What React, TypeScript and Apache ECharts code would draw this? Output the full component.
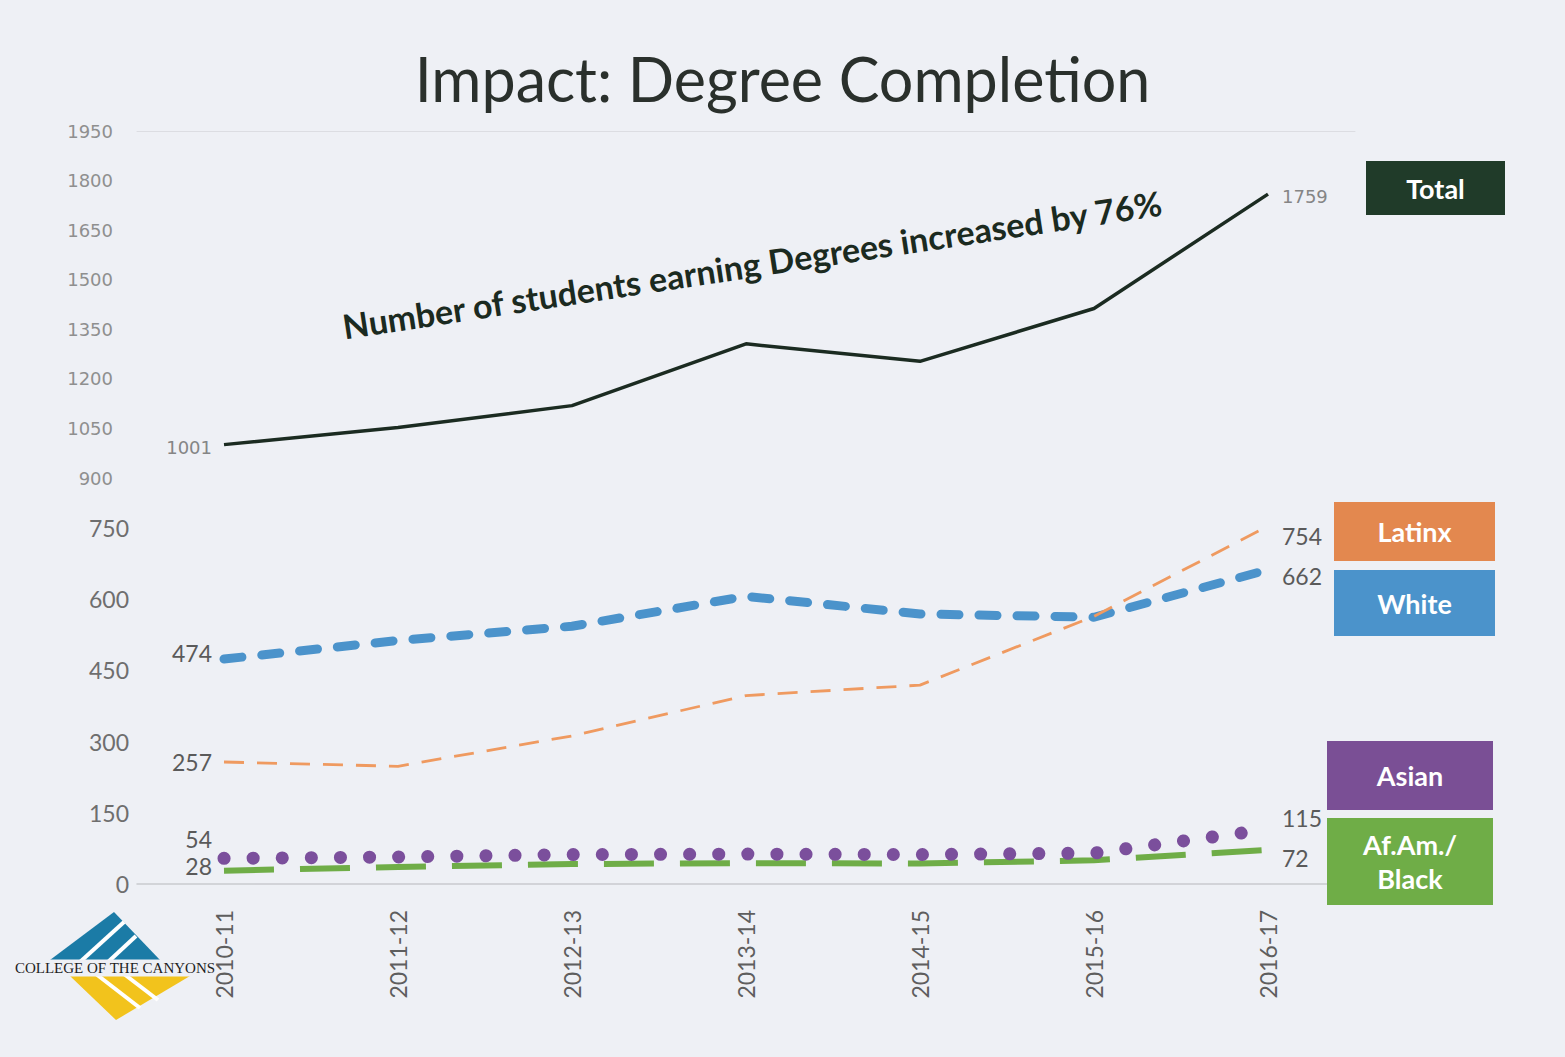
import React, { useEffect, useRef } from "react";
import * as echarts from "echarts";

const categories = ["2010-11", "2011-12", "2012-13", "2013-14", "2014-15", "2015-16", "2016-17"];
const totalValues = [1001, 1053, 1119, 1306, 1253, 1413, 1759];
const latinxValues = [257, 248, 312, 397, 419, 564, 754];
const whiteValues = [474, 513, 543, 606, 569, 562, 662];
const asianValues = [54, 57, 62, 63, 62, 65, 115];
const blackValues = [28, 36, 42, 44, 43, 50, 72];

const topAxis = { min: 900, max: 1950, interval: 150 };
const bottomAxis = { min: 0, max: 750, interval: 150 };

const legendItems = [
  { name: "Total", color: "#203b29" },
  { name: "Latinx", color: "#e3884f" },
  { name: "White", color: "#4b93cb" },
  { name: "Asian", color: "#7a4f95" },
  { name: "Af.Am./\nBlack", color: "#6fad47" },
];

const BG = "#eef0f5";

function endLabels(values: number[], font: any, leftOffset: number[], rightOffset: number[]) {
  const last = values.length - 1;
  return values.map((v, i) => {
    if (i === 0) {
      return { value: v, label: { show: true, position: "left", distance: 12, offset: leftOffset, ...font } };
    }
    if (i === last) {
      return { value: v, label: { show: true, position: "right", distance: 14, offset: rightOffset, ...font } };
    }
    return { value: v };
  });
}

export default function App() {
  const ref = useRef<HTMLDivElement>(null);

  useEffect(() => {
    if (!ref.current) return;
    const chart = echarts.init(ref.current, null, { renderer: "svg" });

    const smallFont = { fontFamily: "DejaVu Sans", fontSize: 18, color: "#858585" };
    const bigFont = { fontFamily: "Lato", fontSize: 23, lineHeight: 20, color: "#5a5a5a" };

    const legendBoxes = [
      { x: 1366, y: 161, w: 139, h: 54, i: 0 },
      { x: 1334, y: 502, w: 161, h: 59, i: 1 },
      { x: 1334, y: 570, w: 161, h: 66, i: 2 },
      { x: 1327, y: 741, w: 166, h: 69, i: 3 },
      { x: 1327, y: 818, w: 166, h: 87, i: 4 },
    ];

    const graphics: any[] = [];
    legendBoxes.forEach((b) => {
      const item = legendItems[b.i];
      graphics.push({
        type: "rect",
        shape: { x: b.x, y: b.y, width: b.w, height: b.h },
        style: { fill: item.color },
        z: 10,
      });
      graphics.push({
        type: "text",
        x: b.x + b.w / 2,
        y: b.y + b.h / 2,
        style: {
          text: item.name,
          fill: "#ffffff",
          font: "bold 27px Lato",
          align: "center",
          verticalAlign: "middle",
          lineHeight: 34,
        },
        z: 11,
      });
    });

    // annotation
    graphics.push({
      type: "text",
      x: 752,
      y: 264,
      rotation: (8.6 * Math.PI) / 180,
      style: {
        text: "Number of students earning Degrees increased by 76%",
        fill: "#1b2a20",
        font: "bold 34px Lato",
        align: "center",
        verticalAlign: "middle",
      },
      z: 10,
    });

    // logo
    graphics.push({
      type: "group",
      z: 10,
      children: [
        { type: "polygon", shape: { points: [[50, 960], [114, 912], [160, 960]] }, style: { fill: "#1b7ba6" } },
        { type: "line", shape: { x1: 80, y1: 962, x2: 124, y2: 922 }, style: { stroke: "#ffffff", lineWidth: 4 } },
        { type: "line", shape: { x1: 108, y1: 962, x2: 136, y2: 936 }, style: { stroke: "#ffffff", lineWidth: 4 } },
        { type: "polygon", shape: { points: [[70, 976], [190, 976], [116, 1020]] }, style: { fill: "#f2c31c" } },
        { type: "line", shape: { x1: 96, y1: 974, x2: 140, y2: 1008 }, style: { stroke: "#ffffff", lineWidth: 4 } },
        { type: "line", shape: { x1: 124, y1: 974, x2: 158, y2: 1000 }, style: { stroke: "#ffffff", lineWidth: 4 } },
        {
          type: "text",
          x: 115,
          y: 968,
          style: {
            text: "COLLEGE OF THE CANYONS",
            fill: "#1e1e1e",
            font: "15px 'Liberation Serif'",
            align: "center",
            verticalAlign: "middle",
            backgroundColor: BG,
            padding: [1, 0],
          },
        },
      ],
    });

    chart.setOption({
      animation: false,
      backgroundColor: BG,
      title: {
        text: "Impact: Degree Completion",
        left: "center",
        top: 43,
        textStyle: { fontFamily: "Lato", fontSize: 61, fontWeight: "normal", color: "#2a302c" },
      },
      grid: [
        { left: 137, top: 131, width: 1218, height: 347 },
        { left: 137, top: 528, width: 1218, height: 356 },
      ],
      xAxis: [
        {
          type: "category",
          gridIndex: 0,
          data: categories,
          position: "top",
          axisLine: { show: true, lineStyle: { color: "#dcdde2", width: 1 } },
          axisTick: { show: false },
          axisLabel: { show: false },
        },
        {
          type: "category",
          gridIndex: 1,
          data: categories,
          axisLine: { show: true, lineStyle: { color: "#c9cace", width: 1.5 } },
          axisTick: { show: false },
          axisLabel: {
            rotate: 90,
            margin: 26,
            fontFamily: "Lato",
            fontSize: 23,
            color: "#5e5e5e",
          },
        },
      ],
      yAxis: [
        {
          type: "value",
          gridIndex: 0,
          min: topAxis.min,
          max: topAxis.max,
          interval: topAxis.interval,
          splitLine: { show: false },
          axisLine: { show: false },
          axisTick: { show: false },
          axisLabel: {
            margin: 24,
            fontFamily: "DejaVu Sans",
            fontSize: 18,
            color: "#8f8f8f",
            formatter: (v: number) => String(v),
          },
        },
        {
          type: "value",
          gridIndex: 1,
          min: bottomAxis.min,
          max: bottomAxis.max,
          interval: bottomAxis.interval,
          splitLine: { show: false },
          axisLine: { show: false },
          axisTick: { show: false },
          axisLabel: {
            margin: 8,
            fontFamily: "Lato",
            fontSize: 23,
            color: "#6e6e6e",
            formatter: (v: number) => String(v),
          },
        },
      ],
      series: [
        {
          name: "Total",
          type: "line",
          xAxisIndex: 0,
          yAxisIndex: 0,
          data: endLabels(totalValues, smallFont, [0, 3], [0, 2]),
          symbol: "circle",
          symbolSize: 0,
          showSymbol: true,
          clip: false,
          lineStyle: { color: "#1b2b21", width: 3.5 },
          itemStyle: { color: "#1b2b21" },
          z: 3,
        },
        {
          name: "White",
          type: "line",
          xAxisIndex: 1,
          yAxisIndex: 1,
          data: endLabels(whiteValues, bigFont, [0, -6], [0, 6]),
          symbol: "circle",
          symbolSize: 0,
          showSymbol: true,
          clip: false,
          lineStyle: { color: "#4b93cb", width: 9, type: [18, 20], cap: "round" },
          itemStyle: { color: "#4b93cb" },
          z: 3,
        },
        {
          name: "Latinx",
          type: "line",
          xAxisIndex: 1,
          yAxisIndex: 1,
          data: endLabels(latinxValues, bigFont, [0, 0], [0, 10]),
          symbol: "circle",
          symbolSize: 0,
          showSymbol: true,
          clip: false,
          lineStyle: { color: "#ef9a60", width: 2.8, type: [20, 13] },
          itemStyle: { color: "#ef9a60" },
          z: 4,
        },
        {
          name: "Af.Am./Black",
          type: "line",
          xAxisIndex: 1,
          yAxisIndex: 1,
          data: endLabels(blackValues, bigFont, [0, -5], [0, 8]),
          symbol: "circle",
          symbolSize: 0,
          showSymbol: true,
          clip: false,
          lineStyle: { color: "#6fad47", width: 6, type: [50, 26] },
          itemStyle: { color: "#6fad47" },
          z: 5,
        },
        {
          name: "Asian",
          type: "line",
          xAxisIndex: 1,
          yAxisIndex: 1,
          data: endLabels(asianValues, bigFont, [0, -19], [0, -11]),
          symbol: "circle",
          symbolSize: 0,
          showSymbol: true,
          clip: false,
          lineStyle: { color: "#7b4f9c", width: 13, type: [0.1, 29], cap: "round" },
          itemStyle: { color: "#7b4f9c" },
          z: 6,
        },
      ],
      graphic: graphics,
    });

    return () => chart.dispose();
  }, []);

  return (
    <div
      ref={ref}
      style={{ position: "absolute", left: 0, top: 0, width: 1565, height: 1057 }}
    />
  );
}
